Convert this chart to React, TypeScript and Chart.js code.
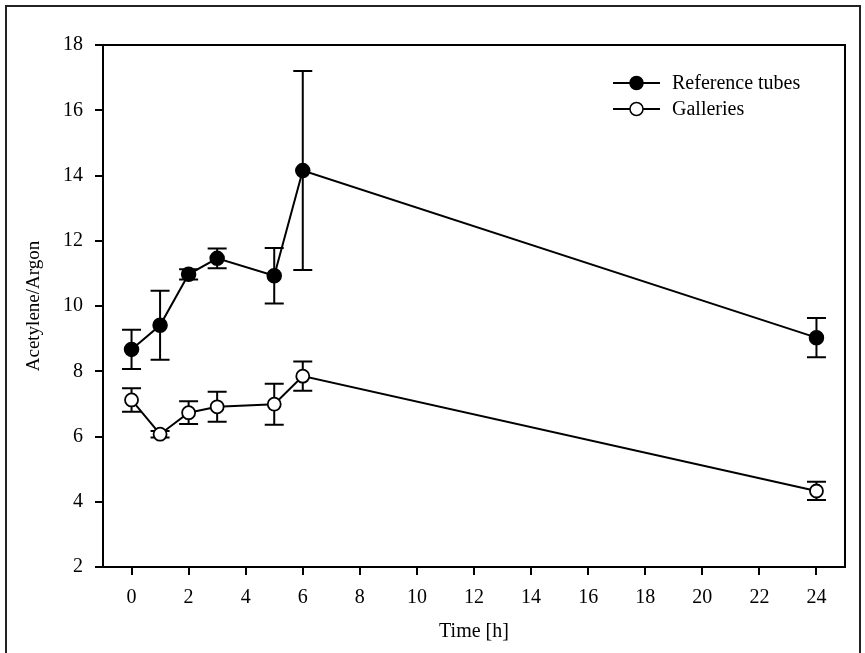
import React, { useEffect, useRef } from "react";
import { Chart, registerables } from "chart.js";

Chart.register(...registerables);

const times = [0, 1, 2, 3, 5, 6, 24];
const refMean = [8.67, 9.41, 10.97, 11.46, 10.93, 14.15, 9.03];
const refErr = [0.6, 1.06, 0.16, 0.3, 0.85, 3.05, 0.6];
const galMean = [7.12, 6.07, 6.73, 6.91, 6.99, 7.85, 4.33];
const galErr = [0.36, 0.1, 0.35, 0.46, 0.63, 0.45, 0.28];
const xTickValues = [0, 2, 4, 6, 8, 10, 12, 14, 16, 18, 20, 22, 24];
const yTickValues = [2, 4, 6, 8, 10, 12, 14, 16, 18];
const seriesNames = ["Reference tubes", "Galleries"];
const xTitle = "Time [h]";
const yTitle = "Acetylene/Argon";

const FONT = '"Liberation Serif", "Times New Roman", serif';

const errorBarPlugin = {
  id: "errorBars",
  beforeDatasetsDraw(chart: any) {
    const ctx = chart.ctx;
    const xs = chart.scales.x;
    const ys = chart.scales.y;
    const errs = [refErr, galErr];
    const means = [refMean, galMean];
    ctx.save();
    ctx.strokeStyle = "#000";
    ctx.lineWidth = 2;
    means.forEach((m, si) => {
      m.forEach((v, i) => {
        const e = errs[si][i];
        const px = xs.getPixelForValue(times[i]);
        const top = ys.getPixelForValue(v + e);
        const bot = ys.getPixelForValue(v - e);
        const cap = 9.5;
        ctx.beginPath();
        ctx.moveTo(px, top);
        ctx.lineTo(px, bot);
        ctx.moveTo(px - cap, top);
        ctx.lineTo(px + cap, top);
        ctx.moveTo(px - cap, bot);
        ctx.lineTo(px + cap, bot);
        ctx.stroke();
      });
    });
    ctx.restore();
  },
};

const framePlugin = {
  id: "frame",
  beforeDatasetsDraw(chart: any) {
    const { ctx, chartArea } = chart;
    ctx.save();
    ctx.strokeStyle = "#000";
    ctx.lineWidth = 2;
    ctx.strokeRect(
      chartArea.left,
      chartArea.top,
      chartArea.right - chartArea.left,
      chartArea.bottom - chartArea.top
    );
    ctx.restore();
  },
  afterDraw(chart: any) {
    const ctx = chart.ctx;
    ctx.save();
    ctx.strokeStyle = "#222";
    ctx.lineWidth = 2;
    ctx.strokeRect(6, 6, chart.width - 11, chart.height + 20);
    ctx.restore();
  },
};

const legendPlugin = {
  id: "customLegend",
  afterDraw(chart: any) {
    const ctx = chart.ctx;
    ctx.save();
    const x0 = 613;
    const x1 = 660;
    const rows = [83, 109];
    ctx.font = `20px ${FONT}`;
    ctx.textBaseline = "middle";
    ctx.fillStyle = "#000";
    seriesNames.forEach((name, i) => {
      const y = rows[i];
      ctx.strokeStyle = "#000";
      ctx.lineWidth = 2;
      ctx.beginPath();
      ctx.moveTo(x0, y);
      ctx.lineTo(x1, y);
      ctx.stroke();
      ctx.beginPath();
      ctx.arc((x0 + x1) / 2, y, 6.5, 0, Math.PI * 2);
      ctx.fillStyle = i === 0 ? "#000" : "#fff";
      ctx.fill();
      ctx.lineWidth = 1.5;
      ctx.stroke();
      ctx.fillStyle = "#000";
      ctx.fillText(name, 672, y + 1);
    });
    ctx.restore();
  },
};

export default function App() {
  const ref = useRef<HTMLCanvasElement | null>(null);

  useEffect(() => {
    document.body.style.margin = "0";
    const canvas = ref.current;
    if (!canvas) return;
    const chart = new Chart(canvas, {
      type: "line",
      data: {
        datasets: [
          {
            label: seriesNames[0],
            data: times.map((t, i) => ({ x: t, y: refMean[i] })),
            borderColor: "#000",
            borderWidth: 2,
            backgroundColor: "#000",
            pointBackgroundColor: "#000",
            pointBorderColor: "#000",
            pointBorderWidth: 1.5,
            pointRadius: 7,
            tension: 0,
            fill: false,
          },
          {
            label: seriesNames[1],
            data: times.map((t, i) => ({ x: t, y: galMean[i] })),
            borderColor: "#000",
            borderWidth: 2,
            backgroundColor: "#fff",
            pointBackgroundColor: "#fff",
            pointBorderColor: "#000",
            pointBorderWidth: 1.8,
            pointRadius: 6.5,
            tension: 0,
            fill: false,
          },
        ],
      },
      options: {
        animation: false,
        responsive: false,
        events: [],
        layout: { padding: { left: 0, top: 45, right: 20, bottom: 0 } },
        plugins: {
          legend: { display: false },
          tooltip: { enabled: false },
        },
        scales: {
          x: {
            type: "linear",
            min: -1,
            max: 25,
            afterBuildTicks: (scale: any) => {
              scale.ticks = xTickValues.map((v) => ({ value: v }));
            },
            afterFit: (scale: any) => {
              scale.height = 86;
            },
            grid: {
              display: true,
              drawOnChartArea: false,
              drawTicks: true,
              tickLength: 8,
              color: "#000",
              lineWidth: 2,
            },
            border: { display: false },
            ticks: {
              color: "#000",
              padding: 11,
              maxRotation: 0,
              font: { family: FONT, size: 20 },
            },
            title: {
              display: true,
              text: xTitle,
              color: "#000",
              font: { family: FONT, size: 20 },
              padding: { top: 0, bottom: 9 },
            },
          },
          y: {
            type: "linear",
            min: 2,
            max: 18,
            afterBuildTicks: (scale: any) => {
              scale.ticks = yTickValues.map((v) => ({ value: v }));
            },
            afterFit: (scale: any) => {
              scale.width = 103;
            },
            grid: {
              display: true,
              drawOnChartArea: false,
              drawTicks: true,
              tickLength: 8,
              color: "#000",
              lineWidth: 2,
            },
            border: { display: false },
            ticks: {
              color: "#000",
              padding: 12,
              font: { family: FONT, size: 20 },
            },
            title: {
              display: true,
              text: yTitle,
              color: "#000",
              font: { family: FONT, size: 19 },
              padding: { top: 23, bottom: 0 },
            },
          },
        },
      },
      plugins: [framePlugin, errorBarPlugin, legendPlugin],
    } as any);
    return () => chart.destroy();
  }, []);

  return (
    <div style={{ width: 865, height: 653, background: "#fff" }}>
      <canvas ref={ref} width={865} height={653} style={{ display: "block" }} />
    </div>
  );
}
